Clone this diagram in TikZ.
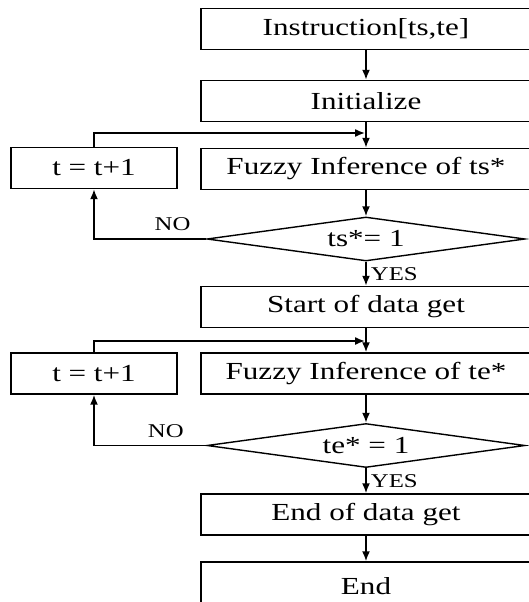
\documentclass[tikz,border=0pt]{standalone}
\usepackage{fontspec}
\setmainfont{Liberation Serif}[FakeStretch=1.27]
\usetikzlibrary{arrows.meta,shapes.geometric}

\begin{document}
\begin{tikzpicture}[
    x=1pt, y=-1pt,
    >={Latex[length=10pt,width=8pt]},
    every node/.style={font=\fontsize{24.5}{28}\selectfont},
    box/.style={draw, line width=1.4pt, minimum width=330pt, minimum height=41pt, inner sep=0pt},
    stepbox/.style={draw, line width=1.4pt, minimum width=166pt, minimum height=41pt, inner sep=0pt},
    test/.style={draw, diamond, aspect=7.2, line width=1.4pt, minimum width=318pt, minimum height=44pt, inner sep=0pt},
    flow/.style={->, line width=1.8pt},
    tag/.style={font=\fontsize{19.5}{22}\selectfont, inner sep=2pt},
]

% --- Frame (boxes run past the right edge) ---
\useasboundingbox (0,0) rectangle (529,602);
\clip (0,0) rectangle (529,602);

% --- Main column ---
\node[box] (instr) at (366,29) {Instruction[ts,te]};
\node[box] (init) at (366,101) {Initialize};
\node[box] (fzs) at (366,169) {Fuzzy Inference of ts*};
\node[test] (tss) at (366,239) {ts*= 1};
\node[box] (start) at (366,307) {Start of data get};
\node[box] (fze) at (366,373.5) {Fuzzy Inference of te*};
\node[test] (tes) at (366,445.5) {te* = 1};
\node[box] (stop) at (366,514.5) {End of data get};
\node[box, minimum height=48pt] (fin) at (366,586) {End};

% --- Counter boxes on the left ---
\node[stepbox] (incs) at (94,168) {t = t+1};
\node[stepbox] (ince) at (94,373.5) {t = t+1};

% Merge points where the loops rejoin
\coordinate (mrgs) at (366,133);
\coordinate (mrge) at (366,341);

% --- Straight flow ---
\draw[flow] (instr) -- (init);
\draw[flow] (init) -- (fzs);
\draw[flow] (fzs) -- (tss);
\draw[flow] (tss) -- node[tag, right=2pt] {YES} (start);
\draw[flow] (start) -- (fze);
\draw[flow] (fze) -- (tes);
\draw[flow] (tes) -- node[tag, right=2pt] {YES} (stop);
\draw[flow] (stop) -- (fin);

% --- Loops: NO -> t = t+1 -> back into inference ---
\draw[flow] (tss.west) -| node[tag, above=5pt, pos=0.15] {NO} (incs.south);
\draw[flow, shorten >=0.9pt] (incs.north) |- (mrgs);
\draw[flow] (tes.west) -| node[tag, above=5pt, pos=0.18] {NO} (ince.south);
\draw[flow, shorten >=0.9pt] (ince.north) |- (mrge);

\end{tikzpicture}
\end{document}
